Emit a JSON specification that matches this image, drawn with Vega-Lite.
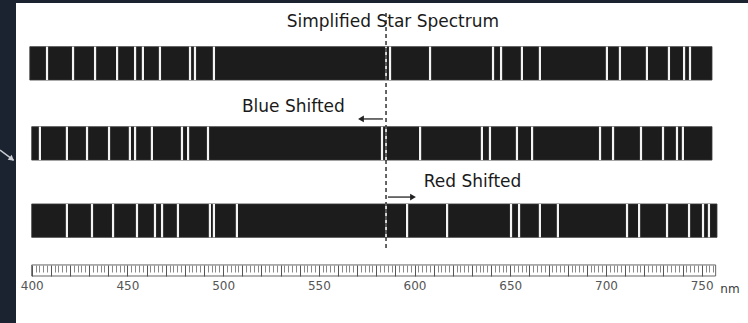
{
  "$schema": "https://vega.github.io/schema/vega-lite/v6.json",
  "width": 748,
  "height": 276,
  "autosize": {"type": "none"},
  "padding": {"left": 0, "top": 0, "right": 0, "bottom": 47},
  "background": "#1b2230",
  "config": {"view": {"stroke": null}, "font": "DejaVu Sans"},
  "datasets": {
    "bars": [
      {"spectrum": "rest", "start": 399, "end": 755.4, "lo": 71.0, "hi": 83.1},
      {"spectrum": "blue", "start": 400, "end": 755.4, "lo": 42.0, "hi": 54.1},
      {"spectrum": "red", "start": 400, "end": 758.0, "lo": 14.0, "hi": 26.1}
    ],
    "lines": [
      {"spectrum": "rest", "nm": 408.0}, {"spectrum": "rest", "nm": 421.6}, {"spectrum": "rest", "nm": 433.1}, {"spectrum": "rest", "nm": 444.6},
      {"spectrum": "rest", "nm": 454.0}, {"spectrum": "rest", "nm": 458.1}, {"spectrum": "rest", "nm": 467.0}, {"spectrum": "rest", "nm": 482.7},
      {"spectrum": "rest", "nm": 485.3}, {"spectrum": "rest", "nm": 495.2}, {"spectrum": "rest", "nm": 587.2}, {"spectrum": "rest", "nm": 608.1},
      {"spectrum": "rest", "nm": 641.0}, {"spectrum": "rest", "nm": 645.2}, {"spectrum": "rest", "nm": 656.1}, {"spectrum": "rest", "nm": 665.5},
      {"spectrum": "rest", "nm": 700.5}, {"spectrum": "rest", "nm": 707.3}, {"spectrum": "rest", "nm": 721.4}, {"spectrum": "rest", "nm": 732.9},
      {"spectrum": "rest", "nm": 740.8}, {"spectrum": "rest", "nm": 743.9},
      {"spectrum": "blue", "nm": 404.3}, {"spectrum": "blue", "nm": 418.4}, {"spectrum": "blue", "nm": 428.9}, {"spectrum": "blue", "nm": 440.4},
      {"spectrum": "blue", "nm": 451.3}, {"spectrum": "blue", "nm": 454.0}, {"spectrum": "blue", "nm": 462.8}, {"spectrum": "blue", "nm": 478.5},
      {"spectrum": "blue", "nm": 481.7}, {"spectrum": "blue", "nm": 492.1}, {"spectrum": "blue", "nm": 583.0}, {"spectrum": "blue", "nm": 602.9},
      {"spectrum": "blue", "nm": 635.2}, {"spectrum": "blue", "nm": 639.4}, {"spectrum": "blue", "nm": 653.5}, {"spectrum": "blue", "nm": 661.4},
      {"spectrum": "blue", "nm": 696.9}, {"spectrum": "blue", "nm": 703.7}, {"spectrum": "blue", "nm": 718.3}, {"spectrum": "blue", "nm": 729.8},
      {"spectrum": "blue", "nm": 737.1}, {"spectrum": "blue", "nm": 740.2},
      {"spectrum": "red", "nm": 418.4}, {"spectrum": "red", "nm": 431.5}, {"spectrum": "red", "nm": 442.5}, {"spectrum": "red", "nm": 455.0},
      {"spectrum": "red", "nm": 464.4}, {"spectrum": "red", "nm": 468.1}, {"spectrum": "red", "nm": 476.4}, {"spectrum": "red", "nm": 493.1},
      {"spectrum": "red", "nm": 495.2}, {"spectrum": "red", "nm": 507.2}, {"spectrum": "red", "nm": 596.1}, {"spectrum": "red", "nm": 617.0},
      {"spectrum": "red", "nm": 650.4}, {"spectrum": "red", "nm": 654.6}, {"spectrum": "red", "nm": 665.5}, {"spectrum": "red", "nm": 674.9},
      {"spectrum": "red", "nm": 711.0}, {"spectrum": "red", "nm": 717.3}, {"spectrum": "red", "nm": 731.9}, {"spectrum": "red", "nm": 743.4},
      {"spectrum": "red", "nm": 750.7}, {"spectrum": "red", "nm": 753.8}
    ],
    "arrows": [
      {"name": "blue", "from": 583.5, "to": 572.0, "level": 56.9},
      {"name": "red", "from": 586.1, "to": 599.2, "level": 28.6}
    ],
    "labels": [
      {"text": "Simplified Star Spectrum", "nm": 588.7, "level": 90.3},
      {"text": "Blue Shifted", "nm": 536.7, "level": 59.5},
      {"text": "Red Shifted", "nm": 630.3, "level": 32.1}
    ],
    "ruler": [{"start": 400, "end": 757.3, "lo": 0, "hi": 4}]
  },
  "layer": [
    {
      "data": {"values": [{"x1": 391.8, "x2": 776, "y1": -18, "y2": 98.9}]},
      "mark": {"type": "rect", "fill": "#ffffff"},
      "encoding": {
        "x": {"field": "x1", "type": "quantitative", "scale": {"domain": [383.44, 774.2], "nice": false, "zero": false}, "axis": null},
        "x2": {"field": "x2"},
        "y": {"field": "y1", "type": "quantitative", "scale": {"domain": [0, 100], "nice": false, "zero": false}, "axis": null},
        "y2": {"field": "y2"}
      }
    },
    {
      "data": {"name": "bars"},
      "mark": {"type": "rect", "fill": "#1c1c1c", "stroke": "#3a3a3a", "strokeWidth": 0.8},
      "encoding": {
        "x": {"field": "start", "type": "quantitative", "axis": null},
        "x2": {"field": "end"},
        "y": {"field": "lo", "type": "quantitative", "axis": null},
        "y2": {"field": "hi"}
      }
    },
    {
      "data": {"name": "lines"},
      "transform": [{"lookup": "spectrum", "from": {"data": {"name": "bars"}, "key": "spectrum", "fields": ["lo", "hi"]}}],
      "mark": {"type": "rule", "color": "#f4f4f4", "strokeWidth": 2.2},
      "encoding": {
        "x": {"field": "nm", "type": "quantitative", "axis": null},
        "y": {"field": "lo", "type": "quantitative", "axis": null},
        "y2": {"field": "hi"}
      }
    },
    {
      "data": {"name": "bars"},
      "mark": {"type": "rule", "color": "#ffffff", "strokeWidth": 1.6},
      "encoding": {
        "x": {"datum": 585.1, "type": "quantitative", "axis": null},
        "y": {"field": "lo", "type": "quantitative", "axis": null},
        "y2": {"field": "hi"}
      }
    },
    {
      "data": {"values": [{"ref": "rest line"}]},
      "mark": {"type": "rule", "color": "#333333", "strokeWidth": 1.5, "strokeDash": [4, 3]},
      "encoding": {
        "x": {"datum": 585.1, "type": "quantitative", "axis": null},
        "y": {"datum": 10.1, "type": "quantitative", "axis": null},
        "y2": {"datum": 95.7}
      }
    },
    {
      "data": {"name": "arrows"},
      "mark": {"type": "rule", "color": "#333333", "strokeWidth": 1.4},
      "encoding": {
        "x": {"field": "from", "type": "quantitative", "axis": null},
        "x2": {"field": "to"},
        "y": {"field": "level", "type": "quantitative", "axis": null}
      }
    },
    {
      "data": {"name": "arrows"},
      "mark": {"type": "point", "filled": true, "color": "#222222", "size": 45, "opacity": 1},
      "encoding": {
        "x": {"field": "to", "type": "quantitative", "axis": null},
        "y": {"field": "level", "type": "quantitative", "axis": null},
        "shape": {"field": "name", "type": "nominal", "scale": {"domain": ["blue", "red"], "range": ["triangle-left", "triangle-right"]}, "legend": null}
      }
    },
    {
      "data": {"values": [{"x1": 383.44, "x2": 390.5, "y1": 45.65, "y2": 42.0}]},
      "mark": {"type": "rule", "color": "#c9ccd1", "strokeWidth": 1.5},
      "encoding": {
        "x": {"field": "x1", "type": "quantitative", "axis": null},
        "x2": {"field": "x2"},
        "y": {"field": "y1", "type": "quantitative", "axis": null},
        "y2": {"field": "y2"}
      }
    },
    {
      "data": {"values": [{"x": 389.6, "y": 42.4}]},
      "mark": {"type": "point", "shape": "triangle-right", "angle": 39, "filled": true, "color": "#c9ccd1", "size": 40, "opacity": 1},
      "encoding": {
        "x": {"field": "x", "type": "quantitative", "axis": null},
        "y": {"field": "y", "type": "quantitative", "axis": null}
      }
    },
    {
      "data": {"name": "labels"},
      "mark": {"type": "text", "font": "DejaVu Sans", "fontSize": 17, "fill": "#1a1a1a", "align": "center", "baseline": "alphabetic"},
      "encoding": {
        "x": {"field": "nm", "type": "quantitative", "axis": null},
        "y": {"field": "level", "type": "quantitative", "axis": null},
        "text": {"field": "text"}
      }
    },
    {
      "data": {"values": [{"unit": "nm", "nm": 764.8, "level": -6.05}]},
      "mark": {"type": "text", "font": "DejaVu Sans", "fontSize": 12, "fill": "#3a3a3a", "align": "center", "baseline": "alphabetic"},
      "encoding": {
        "x": {"field": "nm", "type": "quantitative", "axis": null},
        "y": {"field": "level", "type": "quantitative", "axis": null},
        "text": {"field": "unit"}
      }
    },
    {
      "data": {"name": "ruler"},
      "mark": {"type": "rect", "fill": "#ffffff", "stroke": "#666666", "strokeWidth": 1},
      "encoding": {
        "x": {
          "field": "start", "type": "quantitative",
          "axis": {
            "orient": "bottom",
            "zindex": 2,
            "values": [400, 410, 420, 430, 440, 450, 460, 470, 480, 490, 500, 510, 520, 530, 540, 550, 560, 570, 580, 590, 600, 610, 620, 630, 640, 650, 660, 670, 680, 690, 700, 710, 720, 730, 740, 750],
            "labelExpr": "datum.value % 50 === 0 ? datum.label : ''",
            "tickSize": -11,
            "tickColor": "#555555",
            "tickWidth": 1,
            "domain": false,
            "grid": false,
            "labelPadding": 15,
            "labelFontSize": 12,
            "labelFont": "DejaVu Sans",
            "labelColor": "#555555",
            "labelOverlap": false,
            "labelFlush": false,
            "title": null
          }
        },
        "x2": {"field": "end"},
        "y": {"field": "lo", "type": "quantitative", "axis": null},
        "y2": {"field": "hi"}
      }
    },
    {
      "data": {"name": "ruler"},
      "mark": {"type": "rect", "opacity": 0},
      "encoding": {
        "x": {
          "field": "start", "type": "quantitative",
          "axis": {
            "orient": "bottom",
            "zindex": 2,
            "values": [402, 404, 406, 408, 412, 414, 416, 418, 422, 424, 426, 428, 432, 434, 436, 438, 442, 444, 446, 448, 452, 454, 456, 458, 462, 464, 466, 468, 472, 474, 476, 478, 482, 484, 486, 488, 492, 494, 496, 498, 502, 504, 506, 508, 512, 514, 516, 518, 522, 524, 526, 528, 532, 534, 536, 538, 542, 544, 546, 548, 552, 554, 556, 558, 562, 564, 566, 568, 572, 574, 576, 578, 582, 584, 586, 588, 592, 594, 596, 598, 602, 604, 606, 608, 612, 614, 616, 618, 622, 624, 626, 628, 632, 634, 636, 638, 642, 644, 646, 648, 652, 654, 656, 658, 662, 664, 666, 668, 672, 674, 676, 678, 682, 684, 686, 688, 692, 694, 696, 698, 702, 704, 706, 708, 712, 714, 716, 718, 722, 724, 726, 728, 732, 734, 736, 738, 742, 744, 746, 748, 752, 754, 756],
            "labels": false,
            "tickSize": 7,
            "offset": -11,
            "tickColor": "#888888",
            "tickWidth": 1,
            "domain": false,
            "grid": false,
            "title": null
          }
        },
        "x2": {"field": "end"},
        "y": {"field": "lo", "type": "quantitative", "axis": null},
        "y2": {"field": "hi"}
      }
    }
  ],
  "resolve": {"axis": {"x": "independent"}}
}
